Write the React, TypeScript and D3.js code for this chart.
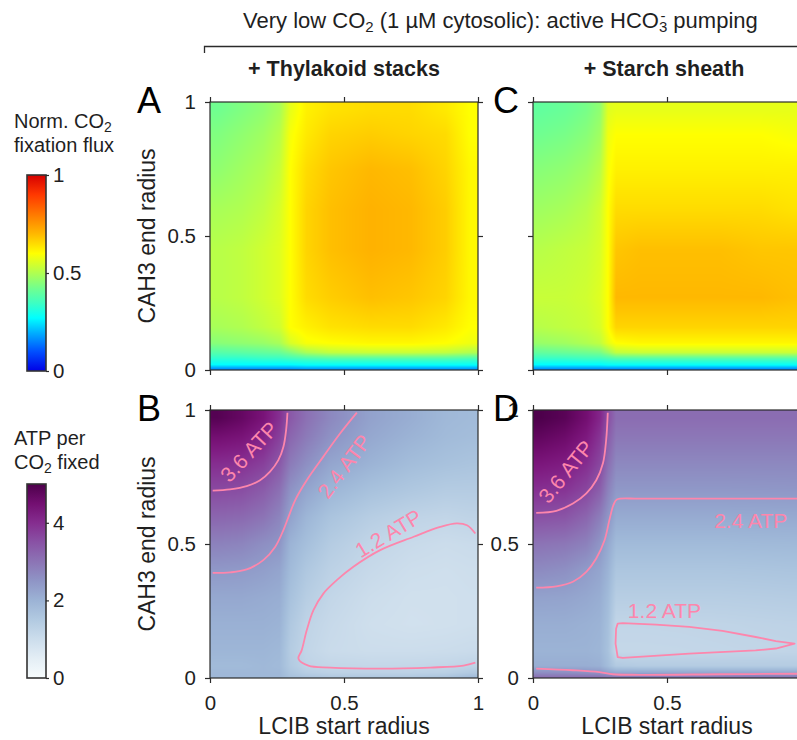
import React, { useEffect, useRef } from "react";
import * as d3 from "d3";

const FONT = "'Liberation Sans', Arial, Helvetica, sans-serif";
const INK = "#1f1f1f";
const AXIS = "#2b2b2b";
const PINK = "#fd86ac";

const radiusTicks = [0, 0.5, 1];
const fluxTicks = [0, 0.5, 1];
const atpTicks = [0, 2, 4];

// jet-like map used for the normalised flux
const jetStops = [0, 0.1, 0.2, 0.27, 0.35, 0.42, 0.5, 0.6, 0.7, 0.8, 0.9, 1];
const jetColors = ["#0000e6", "#0050ff", "#00b4ff", "#00ffff", "#40ffc0", "#70ff90", "#b0ff50", "#ffff00", "#ffb800", "#ff7800", "#ff3800", "#d60000"];

// cell centres (LCIB start radius along x, CAH3 end radius along y)
const xsThyl = [0.03, 0.12, 0.2, 0.26, 0.3, 0.36, 0.45, 0.6, 0.75, 0.88, 0.97];
const xsStarch = [0.03, 0.12, 0.2, 0.25, 0.28, 0.31, 0.4, 0.55, 0.7, 0.85, 0.97];
const ysFlux = [0.005, 0.02, 0.04, 0.065, 0.1, 0.16, 0.27, 0.45, 0.6, 0.75, 0.88, 0.97];
const ysAtp = [0.005, 0.02, 0.045, 0.1, 0.2, 0.3, 0.4, 0.5, 0.6, 0.7, 0.8, 0.9, 0.97];

// A: norm. CO2 fixation flux, thylakoid stacks (rows bottom -> top)
const fluxThyl = [
  [0.17, 0.17, 0.17, 0.17, 0.17, 0.18, 0.18, 0.18, 0.18, 0.18, 0.18],
  [0.27, 0.27, 0.27, 0.27, 0.27, 0.28, 0.28, 0.28, 0.28, 0.28, 0.28],
  [0.32, 0.32, 0.33, 0.33, 0.34, 0.35, 0.36, 0.36, 0.36, 0.36, 0.35],
  [0.38, 0.39, 0.40, 0.41, 0.44, 0.49, 0.52, 0.53, 0.53, 0.52, 0.50],
  [0.45, 0.46, 0.47, 0.49, 0.55, 0.59, 0.60, 0.61, 0.61, 0.60, 0.58],
  [0.49, 0.50, 0.52, 0.54, 0.60, 0.62, 0.64, 0.65, 0.65, 0.63, 0.60],
  [0.51, 0.52, 0.54, 0.56, 0.60, 0.65, 0.67, 0.69, 0.68, 0.66, 0.61],
  [0.51, 0.52, 0.54, 0.56, 0.60, 0.66, 0.69, 0.71, 0.70, 0.67, 0.61],
  [0.49, 0.50, 0.52, 0.55, 0.60, 0.66, 0.69, 0.71, 0.70, 0.67, 0.61],
  [0.46, 0.48, 0.50, 0.53, 0.60, 0.65, 0.68, 0.70, 0.69, 0.66, 0.61],
  [0.44, 0.46, 0.48, 0.51, 0.59, 0.63, 0.66, 0.67, 0.66, 0.65, 0.60],
  [0.42, 0.44, 0.46, 0.49, 0.57, 0.62, 0.64, 0.65, 0.65, 0.63, 0.60],
];

// C: norm. CO2 fixation flux, starch sheath
const fluxStarch = [
  [0.17, 0.17, 0.17, 0.17, 0.17, 0.17, 0.17, 0.17, 0.17, 0.17, 0.17],
  [0.27, 0.27, 0.27, 0.27, 0.28, 0.28, 0.28, 0.28, 0.28, 0.28, 0.28],
  [0.33, 0.33, 0.34, 0.34, 0.35, 0.36, 0.36, 0.36, 0.36, 0.36, 0.36],
  [0.40, 0.41, 0.42, 0.43, 0.47, 0.52, 0.53, 0.53, 0.53, 0.53, 0.53],
  [0.47, 0.48, 0.50, 0.52, 0.57, 0.60, 0.61, 0.61, 0.61, 0.61, 0.61],
  [0.51, 0.52, 0.53, 0.55, 0.60, 0.66, 0.66, 0.66, 0.66, 0.66, 0.66],
  [0.53, 0.53, 0.54, 0.56, 0.60, 0.70, 0.70, 0.70, 0.70, 0.70, 0.69],
  [0.51, 0.52, 0.53, 0.55, 0.60, 0.68, 0.69, 0.69, 0.69, 0.68, 0.68],
  [0.48, 0.49, 0.51, 0.54, 0.60, 0.65, 0.65, 0.65, 0.65, 0.65, 0.64],
  [0.45, 0.46, 0.48, 0.51, 0.59, 0.62, 0.62, 0.62, 0.62, 0.62, 0.62],
  [0.42, 0.43, 0.45, 0.48, 0.58, 0.60, 0.60, 0.60, 0.60, 0.60, 0.59],
  [0.40, 0.41, 0.43, 0.46, 0.56, 0.57, 0.57, 0.57, 0.57, 0.57, 0.57],
];

// B: ATP per CO2 fixed, thylakoid stacks
const atpThyl = [
  [1.9, 1.9, 1.9, 1.9, 1.7, 1.6, 1.5, 1.5, 1.5, 1.6, 1.8],
  [1.9, 1.9, 1.9, 1.9, 1.6, 1.4, 1.3, 1.3, 1.3, 1.35, 1.5],
  [1.85, 1.85, 1.9, 1.85, 1.5, 1.25, 1.18, 1.15, 1.16, 1.19, 1.25],
  [1.95, 1.95, 1.95, 1.9, 1.45, 1.2, 1.05, 1.0, 1.0, 1.02, 1.05],
  [2.05, 2.05, 2.05, 2.0, 1.55, 1.25, 1.1, 0.95, 0.9, 0.92, 0.95],
  [2.2, 2.2, 2.15, 2.1, 1.7, 1.4, 1.18, 1.0, 0.92, 0.92, 0.95],
  [2.45, 2.42, 2.35, 2.25, 1.85, 1.55, 1.3, 1.1, 0.98, 0.95, 0.98],
  [2.8, 2.75, 2.6, 2.5, 2.0, 1.75, 1.45, 1.2, 1.08, 1.02, 1.05],
  [3.2, 3.15, 3.0, 2.75, 2.3, 1.95, 1.65, 1.4, 1.25, 1.2, 1.25],
  [3.6, 3.55, 3.35, 3.05, 2.55, 2.25, 1.95, 1.7, 1.55, 1.45, 1.45],
  [4.0, 3.95, 3.75, 3.4, 2.9, 2.6, 2.25, 2.0, 1.8, 1.7, 1.65],
  [4.5, 4.4, 4.15, 3.75, 3.2, 2.9, 2.55, 2.2, 2.0, 1.85, 1.8],
  [4.9, 4.7, 4.4, 3.95, 3.4, 3.05, 2.7, 2.3, 2.1, 1.9, 1.85],
];

// D: ATP per CO2 fixed, starch sheath
const atpStarch = [
  [3.0, 3.0, 3.0, 3.0, 2.9, 2.9, 2.9, 2.9, 2.9, 2.9, 2.9],
  [2.6, 2.6, 2.55, 2.5, 2.3, 2.2, 2.2, 2.2, 2.2, 2.2, 2.2],
  [2.1, 2.1, 2.1, 2.05, 1.8, 1.5, 1.45, 1.45, 1.45, 1.45, 1.45],
  [2.0, 2.0, 2.0, 1.95, 1.7, 1.15, 1.15, 1.16, 1.18, 1.2, 1.22],
  [2.1, 2.1, 2.05, 2.0, 1.75, 1.2, 1.2, 1.21, 1.23, 1.26, 1.28],
  [2.3, 2.28, 2.2, 2.1, 1.85, 1.4, 1.4, 1.4, 1.4, 1.42, 1.44],
  [2.65, 2.58, 2.4, 2.25, 2.0, 1.6, 1.6, 1.6, 1.6, 1.62, 1.64],
  [3.0, 2.95, 2.8, 2.5, 2.2, 1.85, 1.85, 1.85, 1.85, 1.87, 1.88],
  [3.5, 3.45, 3.2, 2.85, 2.5, 2.15, 2.15, 2.15, 2.15, 2.16, 2.17],
  [3.95, 3.9, 3.65, 3.3, 2.8, 2.45, 2.45, 2.45, 2.45, 2.46, 2.47],
  [4.35, 4.25, 4.0, 3.65, 3.1, 2.7, 2.7, 2.7, 2.7, 2.7, 2.7],
  [4.75, 4.6, 4.3, 3.9, 3.35, 2.95, 2.95, 2.95, 2.95, 2.95, 2.95],
  [5.0, 4.85, 4.5, 4.1, 3.55, 3.1, 3.1, 3.1, 3.1, 3.1, 3.1],
];

// iso-ATP lines, [LCIB start, CAH3 end]
const thylIso36 = [[0.01, 0.699], [0.075, 0.704], [0.137, 0.716], [0.187, 0.738], [0.224, 0.77], [0.255, 0.813], [0.274, 0.863], [0.284, 0.925], [0.289, 0.99]];
const thylIso24 = [[0.01, 0.392], [0.075, 0.394], [0.137, 0.405], [0.199, 0.44], [0.243, 0.489], [0.274, 0.552], [0.293, 0.601], [0.318, 0.664], [0.361, 0.738], [0.423, 0.826], [0.486, 0.913], [0.548, 0.99]];
const thylIso12 = [[0.99, 0.539], [0.959, 0.57], [0.921, 0.577], [0.859, 0.564], [0.76, 0.527], [0.635, 0.477], [0.535, 0.415], [0.473, 0.365], [0.423, 0.315], [0.386, 0.253], [0.361, 0.178], [0.342, 0.103], [0.33, 0.072], [0.367, 0.046], [0.448, 0.039], [0.635, 0.035], [0.822, 0.039], [0.946, 0.046], [0.99, 0.057]];
const starchIso36 = [[0.012, 0.616], [0.087, 0.624], [0.149, 0.651], [0.199, 0.689], [0.236, 0.738], [0.261, 0.801], [0.273, 0.888], [0.279, 0.99]];
const starchIso24 = [[0.012, 0.337], [0.087, 0.342], [0.149, 0.359], [0.199, 0.396], [0.236, 0.446], [0.267, 0.514], [0.285, 0.589], [0.3, 0.645], [0.313, 0.666], [0.397, 0.669], [0.583, 0.669], [1.0, 0.669]];
const starchIso24Low = [[0.012, 0.035], [0.149, 0.029], [0.248, 0.022], [0.298, 0.014], [0.397, 0.012], [0.7, 0.014], [1.0, 0.016]];
const starchIso12 = [[0.316, 0.203], [0.335, 0.205], [0.459, 0.199], [0.583, 0.191], [0.707, 0.176], [0.831, 0.153], [0.906, 0.138], [0.976, 0.128], [0.906, 0.11], [0.831, 0.103], [0.583, 0.091], [0.335, 0.075], [0.316, 0.078], [0.308, 0.128], [0.31, 0.184]];

const S = 268;

type Label = { t: string; x: number; y: number; rot: number; anchor: string };

const panels = [
  { id: "A", left: 210, top: 102, letterX: 137, xs: xsThyl, ys: ysFlux, rows: fluxThyl, kind: "flux", yTicks: true, xTicks: [] as number[], yTitle: true, lines: [] as { pts: number[][]; closed: boolean }[], labels: [] as Label[] },
  { id: "C", left: 533, top: 102, letterX: 493, xs: xsStarch, ys: ysFlux, rows: fluxStarch, kind: "flux", yTicks: false, xTicks: [], yTitle: false, lines: [], labels: [] },
  {
    id: "B", left: 210, top: 410, letterX: 137, xs: xsThyl, ys: ysAtp, rows: atpThyl, kind: "atp", yTicks: true, xTicks: [0, 0.5, 1], yTitle: true,
    lines: [{ pts: thylIso36, closed: false }, { pts: thylIso24, closed: false }, { pts: thylIso12, closed: false }],
    labels: [
      { t: "3.6 ATP", x: 0.145, y: 0.845, rot: -47, anchor: "middle" },
      { t: "2.4 ATP", x: 0.5, y: 0.79, rot: -53, anchor: "middle" },
      { t: "1.2 ATP", x: 0.665, y: 0.54, rot: -31, anchor: "middle" },
    ],
  },
  {
    id: "D", left: 533, top: 410, letterX: 493, xs: xsStarch, ys: ysAtp, rows: atpStarch, kind: "atp", yTicks: true, xTicks: [0, 0.5], yTitle: false,
    lines: [{ pts: starchIso36, closed: false }, { pts: starchIso24, closed: false }, { pts: starchIso24Low, closed: false }, { pts: starchIso12, closed: true }],
    labels: [
      { t: "3.6 ATP", x: 0.122, y: 0.77, rot: -51, anchor: "middle" },
      { t: "2.4 ATP", x: 0.676, y: 0.589, rot: 0, anchor: "start" },
      { t: "1.2 ATP", x: 0.354, y: 0.253, rot: 0, anchor: "start" },
    ],
  },
];

const fluxColor = d3.scaleLinear<string>().domain(jetStops).range(jetColors).interpolate(d3.interpolateRgb).clamp(true);
const atpColor = d3.scaleSequential(d3.interpolateBuPu).domain([0, 5]).clamp(true);

function heatURL(xs: number[], ys: number[], rows: number[][], color: (v: number) => string, n: number) {
  const cv = document.createElement("canvas");
  cv.width = n;
  cv.height = n;
  const ctx = cv.getContext("2d")!;
  const img = ctx.createImageData(n, n);
  const rowScales = rows.map((r) => d3.scaleLinear().domain(xs).range(r).clamp(true));
  for (let i = 0; i < n; i++) {
    const xv = (i + 0.5) / n;
    const col = d3.scaleLinear().domain(ys).range(rowScales.map((s) => s(xv))).clamp(true);
    for (let j = 0; j < n; j++) {
      const c = d3.rgb(color(col(1 - (j + 0.5) / n)));
      const k = (j * n + i) * 4;
      img.data[k] = c.r;
      img.data[k + 1] = c.g;
      img.data[k + 2] = c.b;
      img.data[k + 3] = 255;
    }
  }
  ctx.putImageData(img, 0, 0);
  return cv.toDataURL();
}

export default function App() {
  const ref = useRef<SVGSVGElement>(null);

  useEffect(() => {
    document.body.style.margin = "0";
    const svg = d3.select(ref.current);
    svg.selectAll("*").remove();
    svg.attr("font-family", FONT);
    const defs = svg.append("defs");

    const x = d3.scaleLinear().domain([0, 1]).range([0, S]);
    const y = d3.scaleLinear().domain([0, 1]).range([S, 0]);
    const fmt = (d: any) => String(d);
    const none = () => "";

    // title + bracket
    const title = svg.append("text").attr("x", 243).attr("y", 28).attr("font-size", 22).attr("fill", INK);
    title.append("tspan").text("Very low CO");
    title.append("tspan").attr("font-size", 15).attr("dy", 4).text("2");
    title.append("tspan").attr("dy", -4).text(" (1 \u00b5M cytosolic): active HCO");
    title.append("tspan").attr("font-size", 15).attr("dy", 4).text("3");
    title.append("tspan").attr("font-size", 15).attr("dx", -6.8).attr("dy", -11).text("-");
    title.append("tspan").attr("dx", 1.8).attr("dy", 7).text(" pumping");

    svg.append("path").attr("d", "M204.5,53V46.5H800").attr("fill", "none").attr("stroke", AXIS).attr("stroke-width", 1.3);

    svg.append("text").attr("x", 344).attr("y", 76).attr("text-anchor", "middle").attr("font-size", 21.5).attr("font-weight", "bold").attr("fill", INK).text("+ Thylakoid stacks");
    svg.append("text").attr("x", 664).attr("y", 76).attr("text-anchor", "middle").attr("font-size", 21.5).attr("font-weight", "bold").attr("fill", INK).text("+ Starch sheath");

    const line = d3.line<number[]>().x((d) => x(d[0])).y((d) => y(d[1])).curve(d3.curveCatmullRom.alpha(0.5));
    const loop = d3.line<number[]>().x((d) => x(d[0])).y((d) => y(d[1])).curve(d3.curveLinearClosed);

    panels.forEach((p) => {
      const g = svg.append("g").attr("transform", `translate(${p.left},${p.top})`);
      defs.append("clipPath").attr("id", "clip" + p.id).append("rect").attr("width", S).attr("height", S);
      const color = p.kind === "flux" ? (v: number) => fluxColor(v) : (v: number) => atpColor(v);

      const inner = g.append("g").attr("clip-path", `url(#clip${p.id})`);
      inner.append("image").attr("href", heatURL(p.xs, p.ys, p.rows, color, S)).attr("width", S).attr("height", S).attr("preserveAspectRatio", "none");

      p.lines.forEach((l) => {
        inner.append("path").attr("d", l.closed ? loop(l.pts) : line(l.pts)).attr("fill", "none").attr("stroke", PINK).attr("stroke-width", 1.8).attr("stroke-linejoin", "round");
      });
      p.labels.forEach((lb) => {
        inner.append("text").attr("transform", `translate(${x(lb.x)},${y(lb.y)}) rotate(${lb.rot})`).attr("text-anchor", lb.anchor).attr("dy", "0.36em").attr("font-size", 21).attr("fill", PINK).text(lb.t);
      });

      // axes on all four sides, ticks outward
      const xLab = (d: any) => (p.xTicks.includes(+d) ? String(d) : "");
      const ax = g.append("g");
      ax.append("g").call(d3.axisLeft(y).tickValues(radiusTicks).tickSize(5).tickPadding(9).tickFormat(p.yTicks ? fmt : none));
      ax.append("g").attr("transform", `translate(${S},0)`).call(d3.axisRight(y).tickValues(radiusTicks).tickSize(5).tickFormat(none));
      ax.append("g").call(d3.axisTop(x).tickValues(radiusTicks).tickSize(5).tickFormat(none));
      ax.append("g").attr("transform", `translate(0,${S})`).call(d3.axisBottom(x).tickValues(radiusTicks).tickSize(5).tickPadding(12).tickFormat(xLab));
      ax.selectAll(".domain").remove();
      ax.selectAll("line").attr("stroke", AXIS).attr("stroke-width", 1.2);
      ax.selectAll("text").attr("font-family", FONT).attr("font-size", 20.5).attr("fill", INK);
      g.append("rect").attr("width", S).attr("height", S).attr("fill", "none").attr("stroke", AXIS).attr("stroke-width", 1.2);

      if (p.yTitle) {
        g.append("text").attr("transform", `translate(${147 - p.left},${S / 2}) rotate(-90)`).attr("text-anchor", "middle").attr("dy", "0.36em").attr("font-size", 23).attr("fill", INK).text("CAH3 end radius");
      }
      if (p.xTicks.length) {
        g.append("text").attr("x", S / 2).attr("y", 734 - p.top).attr("text-anchor", "middle").attr("font-size", 23).attr("fill", INK).text("LCIB start radius");
      }
      svg.append("text").attr("x", p.letterX).attr("y", p.top + 11).attr("font-size", 36).attr("fill", "#000").text(p.id);
    });

    // colour bars
    const bars = [
      { id: "flux", top: 175, bottom: 371, domain: [0, 1], ticks: fluxTicks, lines: ["Norm. CO|2|", "fixation flux"], labelY: 128, stops: jetStops.map((s, i) => ({ o: s, c: jetColors[i] })) },
      { id: "atp", top: 484, bottom: 678, domain: [0, 5], ticks: atpTicks, lines: ["ATP per", "CO|2| fixed"], labelY: 445, stops: d3.range(0, 1.0001, 0.1).map((t) => ({ o: t, c: d3.interpolateBuPu(t) })) },
    ];
    bars.forEach((b) => {
      const grad = defs.append("linearGradient").attr("id", "grad" + b.id).attr("x1", 0).attr("x2", 0).attr("y1", 1).attr("y2", 0);
      b.stops.forEach((s) => grad.append("stop").attr("offset", s.o).attr("stop-color", s.c));
      const cy = d3.scaleLinear().domain(b.domain).range([b.bottom, b.top]);
      svg.append("rect").attr("x", 27).attr("y", b.top).attr("width", 19).attr("height", b.bottom - b.top).attr("fill", `url(#grad${b.id})`).attr("stroke", "#333").attr("stroke-width", 1.6);
      const a = svg.append("g").attr("transform", "translate(46,0)").call(d3.axisRight(cy).tickValues(b.ticks).tickSize(3).tickPadding(4).tickFormat(fmt));
      a.select(".domain").remove();
      a.selectAll("line").attr("stroke", AXIS).attr("stroke-width", 1.2);
      a.selectAll("text").attr("font-family", FONT).attr("font-size", 20.5).attr("fill", INK);
      b.lines.forEach((ln, i) => {
        const t = svg.append("text").attr("x", 14).attr("y", b.labelY + i * 24).attr("font-size", 20).attr("fill", INK);
        const parts = ln.split("|");
        parts.forEach((part, k) => {
          if (k % 2 === 1) t.append("tspan").attr("font-size", 14).attr("dy", 4).text(part);
          else t.append("tspan").attr("dy", k > 0 ? -4 : 0).text(part);
        });
      });
    });
  }, []);

  return <svg ref={ref} width={797} height={740} style={{ display: "block" }} />;
}
